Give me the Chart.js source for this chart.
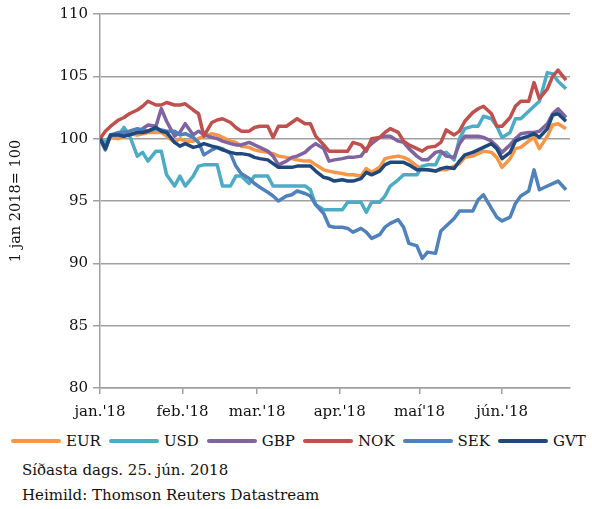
<!DOCTYPE html>
<html>
<head>
<meta charset="utf-8">
<script src="https://cdn.jsdelivr.net/npm/chart.js@4.4.0/dist/chart.umd.min.js"></script>
<style>
  html, body { margin: 0; padding: 0; background: #fff; }
  body { font-family: "DejaVu Serif", serif; color: #111; }
  #wrap { position: relative; width: 592px; height: 430px; }
  #legend { position: absolute; left: 11px; top: 431px; width: 590px; display: flex; gap: 8px; font-size: 15px; line-height: 20px; white-space: nowrap; }
  #legend .item { display: flex; align-items: center; flex: none; }
  #legend .swatch { width: 50px; height: 4px; border-radius: 2px; margin-right: 5px; }
  .note { position: absolute; left: 22px; font-size: 15px; white-space: nowrap; }
</style>
</head>
<body>
<div id="wrap"><canvas id="chart"></canvas></div>
<div id="legend"></div>
<div class="note" style="top:461px">Síðasta dags. 25. jún. 2018</div>
<div class="note" style="top:486px">Heimild: Thomson Reuters Datastream</div>
<script>
// --- Data (index, 1 jan 2018 = 100), days counted from 1 Jan 2018 ---
const days = [0,2,4, 7,9,11, 14,16,18, 21,23,25, 28,30,32, 35,37,39, 42,44,46, 49,51,53,
  56,58,60, 63,65,67, 70,72,74, 77,79,81, 84,86,88, 91,93,95, 98,100,102, 105,107,109,
  112,114,116, 119,121,123, 126,128,130, 133,135,137, 140,142,144, 147,149,151,
  154,156,158, 161,163,165, 168,170,172, 175];

const monthTicks = [0, 31, 59, 90, 120, 151];
const monthLabels = ["jan.'18", "feb.'18", "mar.'18", "apr.'18", "maí'18", "jún.'18"];

const eur = [100,99.6,100.1, 100.0,100.3,100.4, 100.3,100.4,100.5, 100.5,100.5,100.2,
  99.7,100.0,99.8, 99.8,100.0,100.2, 100.4,100.3,100.1, 99.8,99.7,99.4,
  99.3,99.1,99.0, 98.9,98.8,98.6, 98.5,98.4,98.3, 98.2,98.2,97.9,
  97.5,97.4,97.3, 97.2,97.1,97.1, 97.0,97.6,97.3, 97.7,98.4,98.5,
  98.6,98.5,98.3, 97.8,97.6,97.5, 97.4,97.5,97.5, 97.8,98.0,98.5,
  98.6,98.8,99.0, 98.9,98.5,97.7, 98.4,99.2,99.3, 99.8,100.1,99.2,
  100.2,101.1,101.2, 100.8];

const usd = [100,99.7,100.3, 100.3,100.9,100.3, 98.6,98.9,98.2, 99.0,99.0,97.1,
  96.2,97.0,96.2, 97.0,97.8,97.9, 97.9,97.9,96.2, 96.2,97.0,97.0,
  96.4,97.0,97.0, 97.0,96.2,96.2, 96.2,96.2,96.2, 96.2,95.9,94.7,
  94.3,94.3,94.3, 94.3,94.9,94.9, 94.9,94.1,94.9, 94.9,95.4,96.2,
  96.7,97.1,97.1, 97.1,97.8,97.9, 97.9,98.8,98.9, 98.3,100.0,100.8,
  101.0,101.0,101.8, 101.6,101.0,100.1, 100.5,101.6,101.6, 102.2,102.6,103.0,
  105.3,105.2,104.6, 104.0];

const gbp = [100,99.2,100.3, 100.4,100.5,100.3, 100.5,100.8,101.1, 101.0,102.4,101.4,
  100.2,100.5,101.2, 100.3,100.6,100.3, 100.1,100.0,99.8, 99.6,99.5,99.5,
  99.7,99.5,99.3, 99.0,98.6,97.9, 98.2,98.5,98.6, 98.9,99.3,99.6,
  99.2,98.2,98.3, 98.4,98.5,98.5, 98.6,99.2,99.6, 100.1,100.2,100.2,
  99.8,99.7,99.2, 98.6,98.3,98.3, 98.9,99.0,98.6, 98.5,99.6,100.2,
  100.2,100.2,100.1, 99.8,99.4,98.9, 99.5,100.0,100.4, 100.5,100.5,100.6,
  101.2,102.0,102.4, 101.7];

const nok = [100,100.6,101.0, 101.5,101.7,102.0, 102.3,102.6,103.0, 102.7,102.7,102.9,
  102.7,102.7,102.8, 102.3,102.0,100.2, 101.3,101.5,101.6, 101.3,100.9,100.6,
  100.6,100.9,101.0, 101.0,100.1,101.0, 101.0,101.3,101.6, 101.2,101.2,100.2,
  99.5,99.0,99.0, 99.0,99.0,99.7, 99.5,99.0,100.0, 100.1,100.5,100.8,
  100.5,99.8,99.5, 99.2,99.0,99.3, 99.4,99.7,100.7, 100.3,100.6,101.4,
  102.1,102.4,102.6, 102.0,101.0,101.0, 101.7,102.6,103.0, 103.0,104.5,103.2,
  104.0,105.0,105.5, 104.7];

const sek = [100,99.1,100.3, 100.5,100.5,100.6, 100.8,100.7,100.6, 100.8,100.7,100.6,
  100.6,100.3,100.4, 100.1,99.7,98.7, 99.1,99.3,99.2, 98.8,97.8,97.2,
  96.8,96.4,96.1, 95.7,95.4,95.0, 95.4,95.5,95.8, 95.6,95.4,94.7,
  94.0,93.0,92.9, 92.9,92.8,92.5, 92.8,92.5,92.0, 92.3,92.9,93.2,
  93.5,92.9,91.6, 91.4,90.4,90.9, 90.8,92.6,93.0, 93.6,94.2,94.2,
  94.2,95.1,95.5, 94.4,93.7,93.4, 93.7,94.8,95.4, 95.8,97.5,95.9,
  96.2,96.4,96.6, 95.9];

const gvt = [100,99.2,100.3, 100.3,100.2,100.3, 100.5,100.5,100.6, 100.9,100.6,100.5,
  99.7,99.4,99.6, 99.3,99.4,99.6, 99.4,99.3,99.1, 98.9,98.8,98.8,
  98.7,98.5,98.4, 98.3,98.0,97.7, 97.7,97.7,97.8, 97.8,97.8,97.4,
  96.9,96.8,96.6, 96.7,96.6,96.6, 96.8,97.3,97.1, 97.4,97.9,98.1,
  98.1,98.1,97.9, 97.5,97.5,97.5, 97.4,97.6,97.7, 97.6,98.2,98.7,
  98.9,99.1,99.3, 99.6,99.2,98.4, 98.9,99.8,100.0, 100.2,100.4,100.1,
  100.8,101.9,102.0, 101.4];

const seriesNames = ['EUR', 'USD', 'GBP', 'NOK', 'SEK', 'GVT'];
const seriesValues = [eur, usd, gbp, nok, sek, gvt];

// --- Styles ---
const COLORS = ['#F79646', '#4BACC6', '#8064A2', '#C0504D', '#4F81BD', '#1F497D'];
const GRID = '#a0a0a0';
const FONT = { family: '"DejaVu Serif", serif', size: 15 };

const datasets = seriesNames.map((name, s) => ({
    label: name,
    data: seriesValues[s].map((v, i) => ({ x: days[i], y: v })),
    borderColor: COLORS[s],
    backgroundColor: COLORS[s],
    borderWidth: 3.5,
    borderJoinStyle: 'round',
    pointRadius: 0,
    tension: 0,
    order: seriesNames.length - s   // last series (GVT) drawn on top
}));

const chart = new Chart(document.getElementById('chart'), {
    type: 'line',
    data: { datasets },
    options: {
        responsive: true,
        maintainAspectRatio: false,
        animation: false,
        layout: { padding: { top: 11, right: 22, left: 4, bottom: 0 } },
        plugins: {
            tooltip: { enabled: false },
            legend: { display: false }
        },
        scales: {
            x: {
                type: 'linear',
                min: 0,
                max: 176.5,
                afterBuildTicks: (axis) => { axis.ticks = monthTicks.map(v => ({ value: v })); },
                ticks: {
                    autoSkip: false,
                    maxRotation: 0,
                    padding: 9,
                    color: '#111',
                    font: FONT,
                    callback: (v) => monthLabels[monthTicks.indexOf(v)]
                },
                grid: { drawOnChartArea: false, drawTicks: true, tickLength: 6, color: GRID, lineWidth: 1.5 },
                border: { color: GRID, width: 1.5 }
            },
            y: {
                min: 80,
                max: 110,
                ticks: { stepSize: 5, padding: 5, color: '#111', font: FONT },
                grid: { color: GRID, lineWidth: 1.5, tickLength: 7 },
                border: { color: GRID, width: 1.5 },
                title: {
                    display: true, text: '1 jan 2018= 100', color: '#111',
                    font: { family: FONT.family, size: 14.5 },
                    padding: { top: 4, bottom: 29 }
                }
            }
        }
    }
});

// --- HTML legend ---
const legendEl = document.getElementById('legend');
chart.data.datasets.forEach(ds => {
    const item = document.createElement('div');
    item.className = 'item';
    item.innerHTML = `<span class="swatch" style="background:${ds.borderColor}"></span><span>${ds.label}</span>`;
    legendEl.appendChild(item);
});
</script>
</body>
</html>
